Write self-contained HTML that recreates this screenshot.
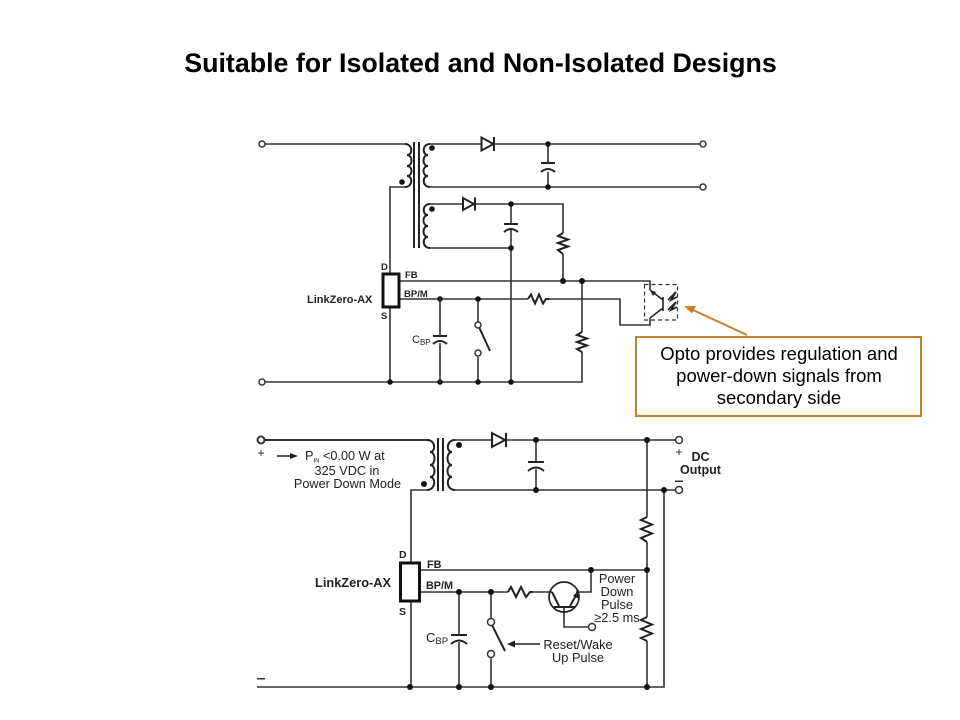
<!DOCTYPE html>
<html><head><meta charset="utf-8"><style>
html,body{margin:0;padding:0;background:#fff}
svg{display:block}
text{font-family:"Liberation Sans",sans-serif;fill:#222}
.w{fill:none;stroke:#333;stroke-width:1.6}
.t{fill:none;stroke:#222;stroke-width:2}
.n{fill:#111;stroke:none}
.o{fill:#fff;stroke:#333;stroke-width:1.5}
</style></head><body>
<svg width="960" height="720" viewBox="0 0 960 720" xmlns="http://www.w3.org/2000/svg">
<rect width="960" height="720" fill="#fff"/>
<text x="480.500" y="72" text-anchor="middle" font-size="26.800" font-weight="bold" style="fill:#000">Suitable for Isolated and Non-Isolated Designs</text>

<!-- TOP -->
<path class="w" d="M265 144H405M430 144H481M494 144H700M430 187H700M548 144V163M548 172V187M430 204H462M475 204H563V233M563 254V281M511 204V224M511 230V382M430 248H511M405 187H390V274M390 307V382M265 382H582V352M399 281H650V290M399 299H528M549 299H620V325H650V318M582 281V332"/>
<path class="t" d="M405 144C413 144 413 155 407 155C413 155 413 166 407 166C413 166 413 176 407 176C413 176 413 187 405 187"/>
<path class="t" d="M430 144C422 144 422 155 428 155C422 155 422 166 428 166C422 166 422 176 428 176C422 176 422 187 430 187"/>
<path class="t" d="M430 204C422 204 422 215 428 215C422 215 422 226 428 226C422 226 422 237 428 237C422 237 422 248 430 248"/>
<path class="t" d="M414 142V248M419 142V248"/>
<path class="t" d="M481.500 137.500V150.500L493.500 144ZM494 137V151"/>
<path class="t" d="M463 198V210L474 204ZM475 197.500V210.500"/>
<path class="t" d="M541 163H555M541 172Q548 166 555 172M504 224H518M504 232Q511 226 518 232M433 336H447M433 344Q440 338 447 344"/>
<path class="t" d="M563 233L558 236L568 239.500L558 243L568 246.500L558 250L563 254M582 332L577 335L587 338.500L577 342L587 345.500L577 349L582 352M528 299L531 294.500L535 303.500L539 294.500L543 303.500L546 299H549"/>
<rect x="383" y="274" width="16" height="33" fill="none" stroke="#111" stroke-width="3"/>
<path class="w" d="M478 299V322M478 357V382"/>
<path class="t" d="M479 327L490 351"/>
<circle class="o" cx="262" cy="144" r="3"/><circle class="o" cx="703" cy="144" r="3"/><circle class="o" cx="703" cy="187" r="3"/><circle class="o" cx="262" cy="382" r="3"/>
<circle class="o" cx="478" cy="325" r="3"/><circle class="o" cx="478" cy="353" r="3"/>
<g class="n"><circle cx="402" cy="182" r="2.800"/><circle cx="432" cy="148" r="2.800"/><circle cx="432" cy="209" r="2.800"/><circle cx="548" cy="144" r="2.800"/><circle cx="548" cy="187" r="2.800"/><circle cx="511" cy="204" r="2.800"/><circle cx="511" cy="248" r="2.800"/><circle cx="563" cy="281" r="3"/><circle cx="582" cy="281" r="3"/><circle cx="440" cy="299" r="2.800"/><circle cx="478" cy="299" r="2.800"/><circle cx="390" cy="382" r="2.800"/><circle cx="440" cy="382" r="2.800"/><circle cx="478" cy="382" r="2.800"/><circle cx="511" cy="382" r="2.800"/></g>
<path class="w" d="M440 299V336M440 343V382"/>
<text x="381" y="270" font-size="9.500" font-weight="bold">D</text>
<text x="381" y="319" font-size="9.500" font-weight="bold">S</text>
<text x="405" y="278" font-size="9.500" font-weight="bold">FB</text>
<text x="404" y="297" font-size="9.500" font-weight="bold">BP/M</text>
<text x="307" y="303" font-size="11" font-weight="bold">LinkZero-AX</text>
<text x="412" y="343" font-size="11">C<tspan font-size="8" dy="2">BP</tspan></text>
<!-- opto -->
<rect x="644.500" y="284.500" width="33" height="35.500" fill="none" stroke="#333" stroke-width="1.200" stroke-dasharray="4 3"/>
<path class="t" d="M663 297V311M650 290L663 300M663 308L650 318" style="stroke-width:1.600"/>
<path d="M650 290L656 292L653 296Z" fill="#222"/>
<path fill="none" stroke="#222" stroke-width="1.700" d="M668 300L676 292L671 300L677 297M668 310L676 302L671 310L677 307"/>
<!-- callout -->
<path d="M747 335L692 309.500" stroke="#c5802b" stroke-width="2" fill="none"/>
<path d="M684 306L696 306L692 313.500Z" fill="#c5802b"/>
<rect x="636" y="337" width="285" height="79" fill="#fff" stroke="#c5802b" stroke-width="2"/>
<g font-size="18.500" text-anchor="middle"><text x="779" y="360" style="fill:#000">Opto provides regulation and</text><text x="779" y="382" style="fill:#000">power-down signals from</text><text x="779" y="404" style="fill:#000">secondary side</text></g>

<!-- BOTTOM -->
<path class="w" d="M455 440H491M506 440H676M455 490H676M536 440V462M536 469V490M647 440V517M647 542V617M647 641V687M664 490V687H257M427 490H411V562M411 601V687M420 570H647M420 592H508M533 592H552M576 592H591V570M459 592V635M459 642V687M491 592V618M491 658V687M564 607V627H588"/>
<path d="M265 440H427" fill="none" stroke="#333" stroke-width="2"/>
<path class="t" d="M427 440C436 440 436 452 430 452C436 452 436 465 430 465C436 465 436 477 430 477C436 477 436 490 427 490"/>
<path class="t" d="M455 440C446 440 446 452 452 452C446 452 446 465 452 465C446 465 446 477 452 477C446 477 446 490 455 490"/>
<path class="t" d="M438 438V491M443 438V491"/>
<path class="t" d="M492 433V447L505 440ZM506 433V447"/>
<path class="t" d="M528 462H544M528 471Q536 464 544 471M451 635H467M451 644Q459 637 467 644"/>
<path class="t" d="M647 517L641 520L652 524.500L641 529L652 533.500L641 538L647 542M647 617L641 620L652 624.500L641 629L652 633.500L641 638L647 641M508 592L511 587L516 597L521 587L526 597L530 592H533"/>
<rect x="400.500" y="563" width="19" height="38" fill="none" stroke="#111" stroke-width="3"/>
<path class="t" d="M492 625L505 651"/>
<circle class="o" cx="261" cy="440" r="3.500" style="stroke-width:2"/><circle class="o" cx="679" cy="440" r="3.500"/><circle class="o" cx="679" cy="490" r="3.500"/>
<circle class="o" cx="491" cy="622" r="3.500"/><circle class="o" cx="491" cy="654" r="3.500"/><circle class="o" cx="592" cy="627" r="3.500"/>
<g class="n"><circle cx="424" cy="484" r="3"/><circle cx="459" cy="445" r="3"/><circle cx="536" cy="440" r="3"/><circle cx="536" cy="490" r="3"/><circle cx="647" cy="440" r="3"/><circle cx="664" cy="490" r="3"/><circle cx="647" cy="570" r="3"/><circle cx="591" cy="570" r="3"/><circle cx="459" cy="592" r="3"/><circle cx="491" cy="592" r="3"/><circle cx="410" cy="687" r="3"/><circle cx="459" cy="687" r="3"/><circle cx="491" cy="687" r="3"/><circle cx="647" cy="687" r="3"/></g>
<!-- transistor -->
<circle cx="564" cy="597" r="15" fill="none" stroke="#222" stroke-width="1.700"/>
<path class="t" d="M554 607H575M552 592L559 606M570 606L578 592"/>
<path d="M579 590L579 599L573 596Z" fill="#222"/>
<!-- arrows -->
<path class="t" d="M277 456H292" style="stroke-width:1.500"/><path d="M298 456L290 453V459Z" fill="#222"/>
<path class="t" d="M540 644H513" style="stroke-width:1.500"/><path d="M507 644L515 640.500V647.500Z" fill="#222"/>
<!-- labels -->
<text x="261" y="457" font-size="12" text-anchor="middle">+</text>
<text x="305" y="460" font-size="12.700">P<tspan font-size="6" dy="2.500">IN</tspan><tspan dy="-2.500"> &lt;0.00 W at</tspan></text>
<text x="347" y="475" font-size="12.700" text-anchor="middle">325 VDC in</text>
<text x="347.500" y="488" font-size="12.700" text-anchor="middle">Power Down Mode</text>
<text x="679" y="456" font-size="12" text-anchor="middle">+</text>
<rect x="675" y="480.500" width="8" height="1.500" fill="#333"/>
<text x="700.500" y="461" font-size="12.500" font-weight="bold" text-anchor="middle">DC</text>
<text x="700.500" y="474" font-size="12.500" font-weight="bold" text-anchor="middle">Output</text>
<text x="399" y="558" font-size="10.500" font-weight="bold">D</text>
<text x="399" y="615" font-size="10.500" font-weight="bold">S</text>
<text x="427" y="568" font-size="10.800" font-weight="bold">FB</text>
<text x="426" y="589" font-size="10.800" font-weight="bold">BP/M</text>
<text x="315" y="587" font-size="12.800" font-weight="bold">LinkZero-AX</text>
<text x="426" y="642" font-size="13">C<tspan font-size="9.500" dy="2">BP</tspan></text>
<g font-size="12.800" text-anchor="middle"><text x="617" y="583">Power</text><text x="617" y="596">Down</text><text x="617" y="609">Pulse</text><text x="617" y="622">≥2.5 ms</text><text x="578" y="649">Reset/Wake</text><text x="578" y="662">Up Pulse</text></g>
<rect x="257" y="678" width="8" height="1.500" fill="#333"/>
</svg>
</body></html>
